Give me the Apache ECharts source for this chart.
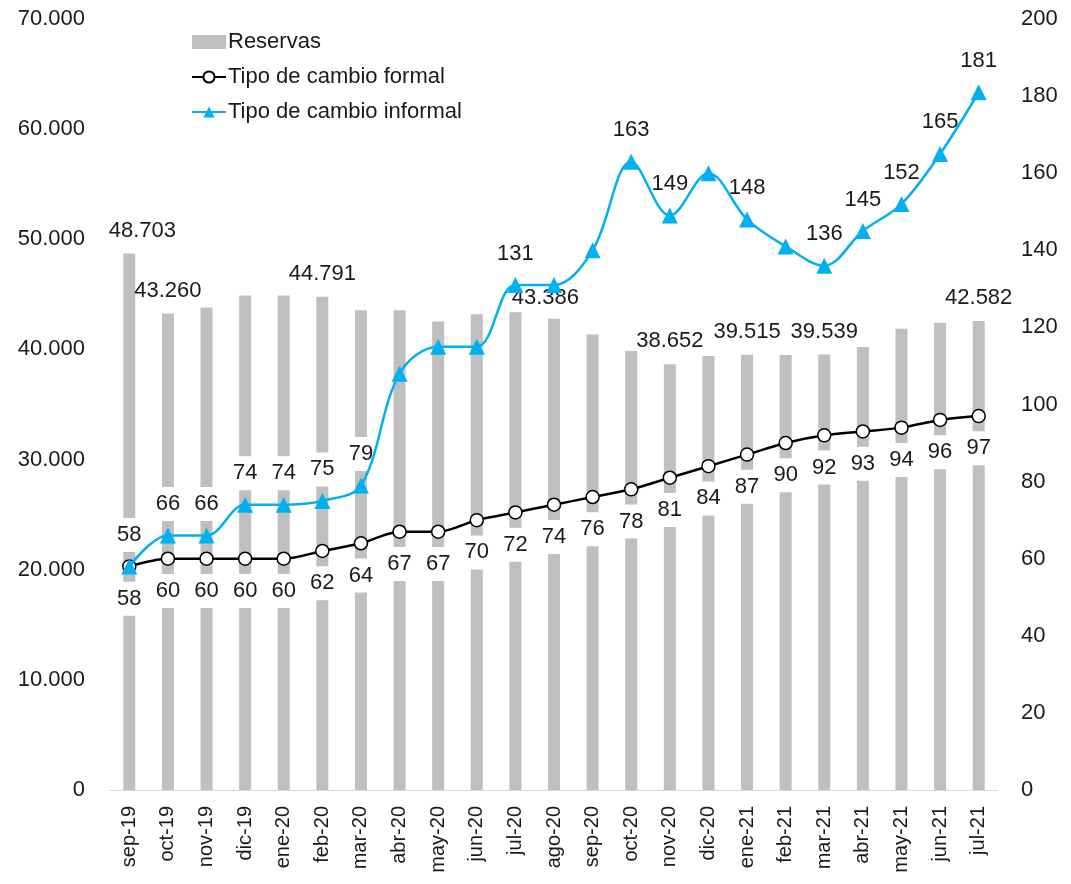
<!DOCTYPE html>
<html>
<head>
<meta charset="utf-8">
<script src="https://cdn.jsdelivr.net/npm/echarts@6/dist/echarts.min.js"></script>
<style>
html,body{margin:0;padding:0;background:#fff;}
#chart{width:1071px;height:884px;}
</style>
</head>
<body>
<div id="chart"></div>
<script>
const categories = ['sep-19','oct-19','nov-19','dic-19','ene-20','feb-20','mar-20','abr-20','may-20','jun-20','jul-20','ago-20','sep-20','oct-20','nov-20','dic-20','ene-21','feb-21','mar-21','abr-21','may-21','jun-21','jul-21'];
const reservas = [48703, 43260, 43800, 44890, 44890, 44791, 43560, 43560, 42530, 43200, 43386, 42780, 41360, 39850, 38652, 39400, 39515, 39500, 39539, 40220, 41880, 42430, 42582];
const formal = [58, 60, 60, 60, 60, 62, 64, 67, 67, 70, 72, 74, 76, 78, 81, 84, 87, 90, 92, 93, 94, 96, 97];
const informal = [58, 66, 66, 74, 74, 75, 79, 108, 115, 115, 131, 131, 140, 163, 149, 160, 148, 141, 136, 145, 152, 165, 181];
const reservasLabelIdx = [0, 1, 5, 10, 14, 16, 18, 22];
const informalLabelIdx = [0, 1, 2, 3, 4, 5, 6, 10, 13, 14, 16, 18, 19, 20, 21, 22];

const FONT = '"Liberation Sans", Arial, sans-serif';
const TXT = '#1a1a1a';
const CLEAR = 'rgba(0,0,0,0)';
const fmtThousands = v => String(Math.round(v)).replace(/\B(?=(\d{3})+(?!\d))/g, '.');

const reservasLabelOffset = {0: [13, 0], 10: [30, 9]};

const reservasData = reservas.map((v, i) => {
  const show = reservasLabelIdx.indexOf(i) >= 0;
  const lab = {show: show};
  if (reservasLabelOffset[i]) lab.offset = reservasLabelOffset[i];
  return {value: v, label: lab};
});
const informalLabelData = informal.map((v, i) => ({
  value: v,
  label: {show: informalLabelIdx.indexOf(i) >= 0}
}));

const chart = echarts.init(document.getElementById('chart'), null, {renderer: 'canvas'});
chart.setOption({
  animation: false,
  backgroundColor: '#ffffff',
  textStyle: {fontFamily: FONT, color: TXT},
  grid: {left: 110, right: 73, top: 19, bottom: 94, containLabel: false},
  legend: {
    orient: 'vertical',
    left: 186,
    top: 26,
    itemWidth: 34,
    itemHeight: 14,
    itemGap: 13,
    textStyle: {fontFamily: FONT, fontSize: 22, color: TXT, padding: [0, 0, 0, -3]},
    data: [
      {name: 'Reservas', icon: 'rect'},
      {name: 'Tipo de cambio formal'},
      {name: 'Tipo de cambio informal'}
    ]
  },
  xAxis: {
    type: 'category',
    data: categories,
    axisLine: {show: true, lineStyle: {color: '#d9d9d9', width: 1}},
    axisTick: {show: false},
    axisLabel: {rotate: 90, margin: 16, fontSize: 20, fontFamily: FONT, color: TXT, interval: 0}
  },
  yAxis: [
    {
      type: 'value', min: 0, max: 70000, interval: 10000,
      axisLine: {show: false}, axisTick: {show: false}, splitLine: {show: false},
      axisLabel: {margin: 25, fontSize: 22, fontFamily: FONT, color: TXT, formatter: fmtThousands}
    },
    {
      type: 'value', min: 0, max: 200, interval: 20,
      axisLine: {show: false}, axisTick: {show: false}, splitLine: {show: false},
      axisLabel: {margin: 23, fontSize: 22, fontFamily: FONT, color: TXT}
    }
  ],
  series: [
    {
      name: 'Reservas',
      type: 'bar',
      yAxisIndex: 0,
      barWidth: 12,
      itemStyle: {color: '#bfbfbf'},
      data: reservasData,
      label: {
        position: 'top', distance: 12, fontSize: 22, fontFamily: FONT, color: TXT,
        formatter: p => fmtThousands(p.value)
      },
      z: 2
    },
    {
      name: 'informal-labels',
      type: 'line',
      yAxisIndex: 1,
      data: informalLabelData,
      symbol: 'triangle',
      symbolSize: 16,
      showSymbol: true,
      itemStyle: {color: CLEAR, borderColor: CLEAR},
      lineStyle: {color: CLEAR, width: 0},
      silent: true,
      tooltip: {show: false},
      label: {
        position: 'top', distance: 6, fontSize: 22, fontFamily: FONT, color: TXT,
        backgroundColor: '#ffffff', padding: [6, 2], opacity: 1
      },
      z: 3
    },
    {
      name: 'Tipo de cambio formal',
      type: 'line',
      yAxisIndex: 1,
      data: formal,
      smooth: 0.3,
      symbol: 'circle',
      symbolSize: 13,
      lineStyle: {color: '#000000', width: 2.5},
      itemStyle: {color: '#ffffff', borderColor: '#000000', borderWidth: 1.5},
      label: {
        show: true, position: 'bottom', distance: 8, fontSize: 22, fontFamily: FONT, color: TXT,
        backgroundColor: '#ffffff', padding: [6, 2]
      },
      z: 4
    },
    {
      name: 'Tipo de cambio informal',
      type: 'line',
      yAxisIndex: 1,
      data: informal,
      smooth: 0.35,
      symbol: 'triangle',
      symbolSize: 16,
      lineStyle: {color: '#00b0f0', width: 2.5},
      itemStyle: {color: '#00b0f0'},
      label: {show: false},
      z: 5
    }
  ]
});
</script>
</body>
</html>
